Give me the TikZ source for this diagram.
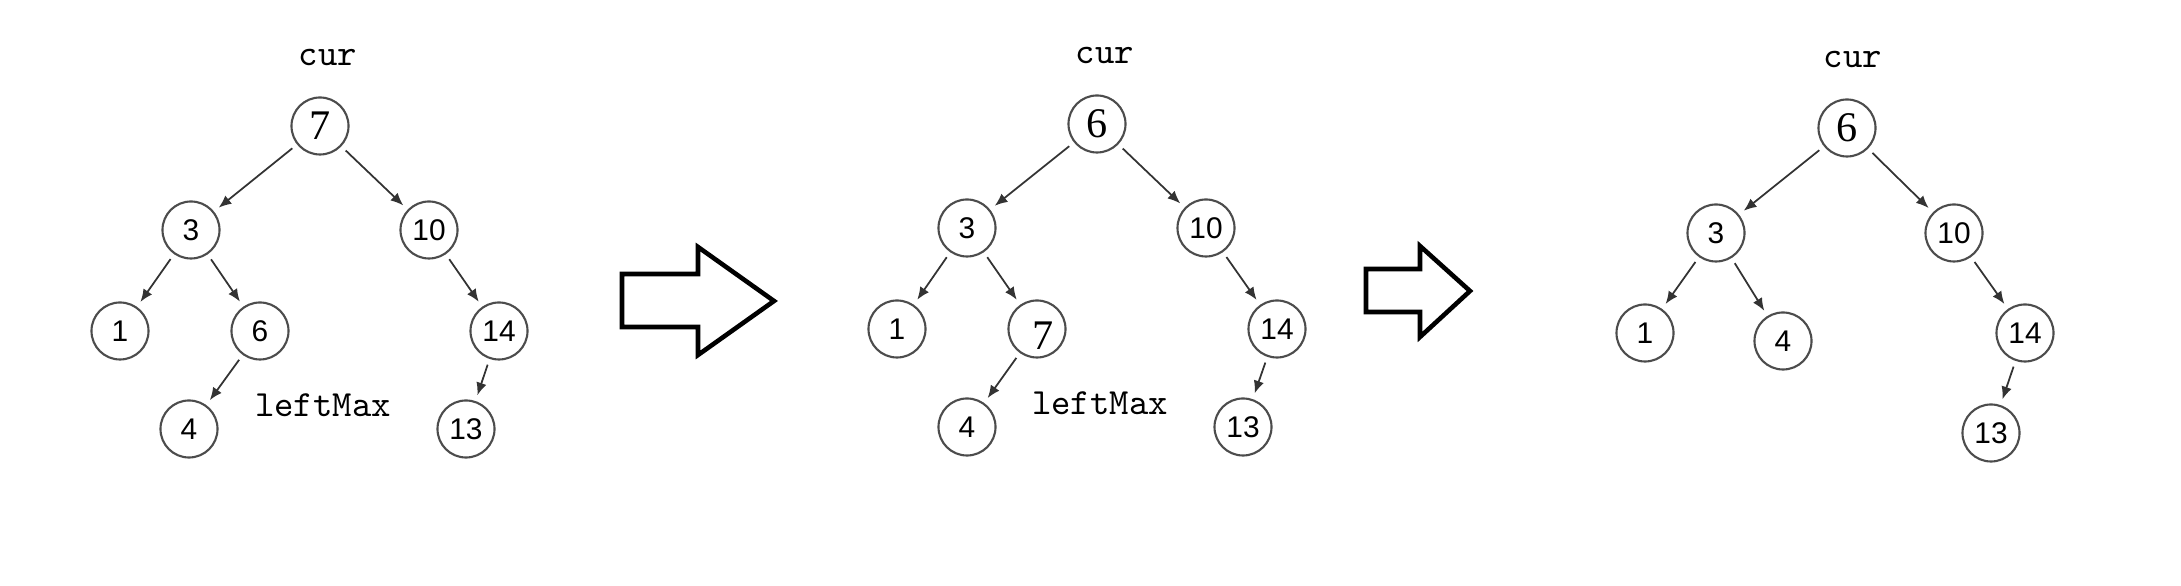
\documentclass[tikz,border=0pt]{standalone}
\usepackage{fontspec}
\newfontfamily\numfont{Liberation Sans}
\newfontfamily\rootfont{Liberation Serif}
\usepackage{tikz}
\usetikzlibrary{arrows.meta,positioning}

\begin{document}
\begin{tikzpicture}[
  x=0.01cm, y=-0.01cm,
  tnode/.style={circle, draw=black!70, line width=0.6pt, minimum size=0.57cm, inner sep=0pt, outer sep=2pt, font=\numfont\fontsize{8.5}{8.5}\selectfont},
  rnode/.style={tnode, font=\rootfont\fontsize{12}{12}\selectfont},
  tag/.style={inner sep=0pt, font=\ttfamily\fontsize{10.5}{10.5}\selectfont},
  link/.style={-{Latex[length=3.6pt, width=3pt]}, draw=black!80, line width=0.5pt},
  bigarrow/.style={draw, line width=1.3pt, line join=miter}
]
\useasboundingbox (0,0) rectangle (2181,586);

% before
\node[rnode] (a7) at (320,126) {7};
\node[tnode] (a3) at (191,230) {3};
\node[tnode] (a10) at (429,230) {10};
\node[tnode] (a1) at (120,331) {1};
\node[tnode] (a6) at (260,331) {6};
\node[tnode] (a14) at (499,331) {14};
\node[tnode] (a4) at (189,429) {4};
\node[tnode] (a13) at (466,429) {13};
\draw[link] (a7) -- (a3);
\draw[link] (a7) -- (a10);
\draw[link] (a3) -- (a1);
\draw[link] (a3) -- (a6);
\draw[link] (a6) -- (a4);
\draw[link] (a10) -- (a14);
\draw[link] (a14) -- (a13);
\node[tag, above=0.24cm of a7, xshift=0.08cm] (cura) {cur};
\node[tag] (lefta) at (323,405) {leftMax};

\draw[bigarrow] (622,274) -- (698,274) -- (698,247) -- (774,301) -- (698,355) -- (698,327) -- (622,327) -- cycle;

% after swap
\node[rnode] (b6) at (1097,124) {6};
\node[tnode] (b3) at (967,228) {3};
\node[tnode] (b10) at (1206,228) {10};
\node[tnode] (b1) at (897,329) {1};
\node[rnode] (b7) at (1037,329) {\hspace*{0.12cm}\raisebox{-0.07cm}[\height][0pt]{7}};
\node[tnode] (b14) at (1277,329) {14};
\node[tnode] (b4) at (967,427) {4};
\node[tnode] (b13) at (1243,427) {13};
\draw[link] (b6) -- (b3);
\draw[link] (b6) -- (b10);
\draw[link] (b3) -- (b1);
\draw[link] (b3) -- (b7);
\draw[link] (b7) -- (b4);
\draw[link] (b10) -- (b14);
\draw[link] (b14) -- (b13);
\node[tag, above=0.24cm of b6, xshift=0.08cm] (curb) {cur};
\node[tag] (leftb) at (1100,403) {leftMax};

\draw[bigarrow] (1366,269) -- (1420,269) -- (1420,246) -- (1470,291) -- (1420,337) -- (1420,312) -- (1366,312) -- cycle;

% after delete
\node[rnode] (c6) at (1847,128) {6};
\node[tnode] (c3) at (1716,233) {3};
\node[tnode] (c10) at (1954,233) {10};
\node[tnode] (c1) at (1645,333) {1};
\node[tnode] (c4) at (1783,341) {4};
\node[tnode] (c14) at (2025,333) {14};
\node[tnode] (c13) at (1991,433) {13};
\draw[link] (c6) -- (c3);
\draw[link] (c6) -- (c10);
\draw[link] (c3) -- (c1);
\draw[link] (c3) -- (c4);
\draw[link] (c10) -- (c14);
\draw[link] (c14) -- (c13);
\node[tag, above=0.24cm of c6, xshift=0.06cm] (curc) {cur};
\end{tikzpicture}
\end{document}
